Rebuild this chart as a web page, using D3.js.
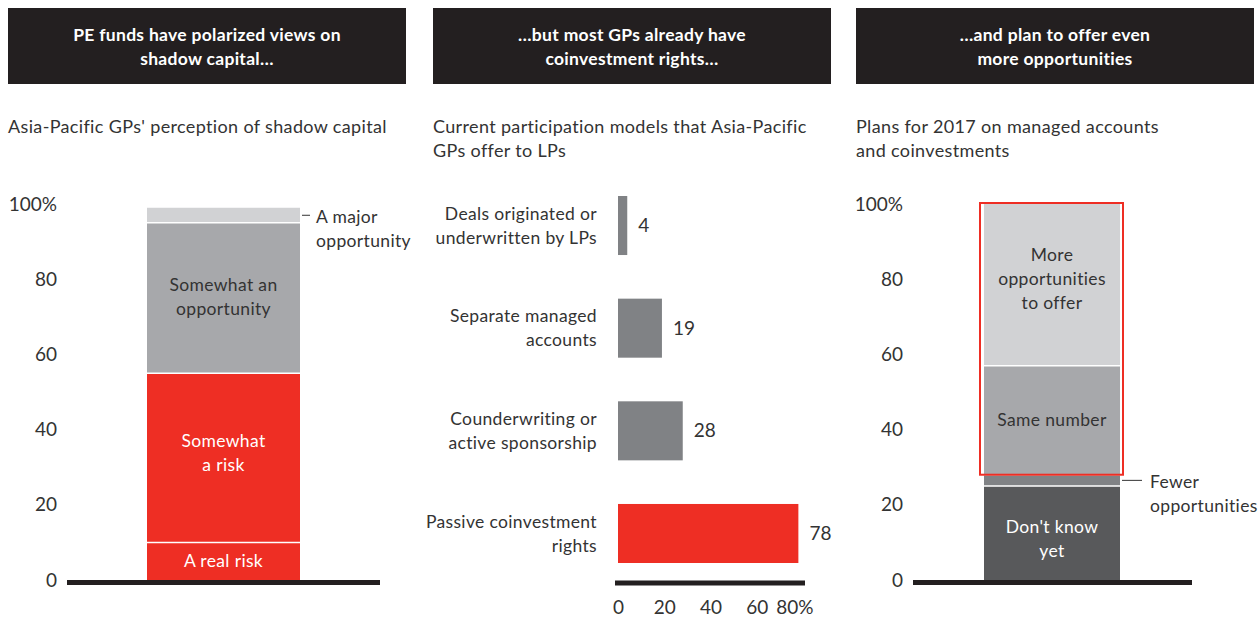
<!DOCTYPE html>
<html>
<head>
<meta charset="utf-8">
<script src="https://cdn.jsdelivr.net/npm/d3@7"></script>
<style>
  body { margin: 0; background: #fff; }
  svg text { font-family: Lato, "Noto Sans", sans-serif; }
</style>
</head>
<body>
<svg id="chart" width="1258" height="617"></svg>
<script>
    // chart data
    var headers = [
        ["PE funds have polarized views on", "shadow capital\u2026"],
        ["\u2026but most GPs already have", "coinvestment rights\u2026"],
        ["\u2026and plan to offer even", "more opportunities"]
    ];
    var subtitles = [
        ["Asia-Pacific GPs' perception of shadow capital"],
        ["Current participation models that Asia-Pacific", "GPs offer to LPs"],
        ["Plans for 2017 on managed accounts", "and coinvestments"]
    ];

    var leftCats = ["A real risk", "Somewhat a risk", "Somewhat an opportunity", "A major opportunity"];
    var leftLabels = [["A real risk"], ["Somewhat", "a risk"], ["Somewhat an", "opportunity"], ["A major", "opportunity"]];
    var leftValues = [10, 45, 40, 4];

    var midCats = ["Deals originated or underwritten by LPs", "Separate managed accounts",
                   "Counderwriting or active sponsorship", "Passive coinvestment rights"];
    var midLabels = [["Deals originated or", "underwritten by LPs"], ["Separate managed", "accounts"],
                     ["Counderwriting or", "active sponsorship"], ["Passive coinvestment", "rights"]];
    var midValues = [4, 19, 28, 78];

    var rightCats = ["Don't know yet", "Fewer opportunities", "Same number", "More opportunities to offer"];
    var rightLabels = [["Don't know", "yet"], ["Fewer", "opportunities"], ["Same number"], ["More", "opportunities", "to offer"]];
    var rightValues = [25, 3, 29, 43];

    var pctTicks = [0, 20, 40, 60, 80, 100];
    var midTicks = [0, 20, 40, 60, 80];

    // colours
    var red = "#ee2e24";
    var ink = "#231f20";
    var text = "#333333";
    var leftColors = [red, red, "#a7a8ab", "#d1d2d4"];
    var leftText = ["#fff", "#fff", "#333", "#333"];
    var rightColors = ["#58595b", "#808285", "#a7a8ab", "#d1d2d4"];
    var rightText = ["#fff", "#fff", "#333", "#333"];

    // layout tweaks for in-bar labels (pixels, relative to segment centre)
    var leftShift = [0, -5, -1, 0];
    var rightShift = [6, 0, 0, -6];

    var fs = 17.5, ls = 0.35;

    var svg = d3.select("#chart");

    // header boxes
    var boxX = [8, 433, 856];
    var boxW = 398;
    boxX.forEach(function(x, i) {
        svg.append("rect")
            .attr("x", x).attr("y", 8).attr("width", boxW).attr("height", 76)
            .attr("fill", ink);
        headers[i].forEach(function(line, j) {
            svg.append("text")
                .attr("x", x + boxW / 2).attr("y", 41 + j * 24)
                .attr("text-anchor", "middle")
                .attr("fill", "#fff")
                .attr("font-size", 17.5).attr("font-weight", "bold")
                .attr("letter-spacing", 0.3)
                .text(line);
        });
        subtitles[i].forEach(function(line, j) {
            svg.append("text")
                .attr("x", x).attr("y", 133 + j * 24)
                .attr("fill", text)
                .attr("font-size", 18).attr("letter-spacing", 0.35)
                .text(line);
        });
    });

    // shared vertical scale for the stacked bars
    var y = d3.scaleLinear().domain([0, 100]).range([580, 204]);

    function cumulate(values) {
        var acc = 0;
        return values.map(function(v) {
            var d = { y0: acc, y1: acc + v, v: v };
            acc += v;
            return d;
        });
    }

    function stackedPanel(g, cats, values, colors, textColors, labels, shift, bx, bw, axisX, baseX0, baseX1, skipLabel) {
        var segs = cumulate(values);
        segs.forEach(function(d, i) { d.cat = cats[i]; d.i = i; });

        var axis = d3.axisLeft(y).tickValues(pctTicks).tickSize(0).tickPadding(0)
            .tickFormat(function(d) { return d === 100 ? "100%" : d; });
        var ag = g.append("g").attr("transform", "translate(" + axisX + ",0)").call(axis);
        ag.select(".domain").remove();
        ag.selectAll("text")
            .attr("font-size", 19).attr("fill", text)
            .style("font-family", "Lato, 'Noto Sans', sans-serif");

        g.selectAll("rect.seg").data(segs).enter()
            .append("rect")
            .attr("class", "seg")
            .attr("x", bx).attr("width", bw)
            .attr("y", function(d) { return y(d.y1); })
            .attr("height", function(d) { return y(d.y0) - y(d.y1); })
            .attr("fill", function(d) { return colors[d.i]; });

        // white separators
        g.selectAll("line.sep").data(segs.slice(1)).enter()
            .append("line")
            .attr("x1", bx).attr("x2", bx + bw)
            .attr("y1", function(d) { return y(d.y0); })
            .attr("y2", function(d) { return y(d.y0); })
            .attr("stroke", "#fff").attr("stroke-width", 1.5);

        segs.forEach(function(d) {
            if (skipLabel.indexOf(d.i) >= 0) return;
            var lines = labels[d.i];
            var cy = (y(d.y0) + y(d.y1)) / 2 + shift[d.i];
            lines.forEach(function(line, j) {
                g.append("text")
                    .attr("x", bx + bw / 2)
                    .attr("y", cy + (j - (lines.length - 1) / 2) * 24)
                    .attr("dy", "0.35em")
                    .attr("text-anchor", "middle")
                    .attr("fill", textColors[d.i])
                    .attr("font-size", fs).attr("letter-spacing", ls)
                    .text(line);
            });
        });

        g.append("line")
            .attr("x1", baseX0).attr("x2", baseX1)
            .attr("y1", y(0) + 2.5).attr("y2", y(0) + 2.5)
            .attr("stroke", ink).attr("stroke-width", 5);
        return segs;
    }

    // left panel
    var gl = svg.append("g");
    var lsegs = stackedPanel(gl, leftCats, leftValues, leftColors, leftText, leftLabels, leftShift,
        147, 153, 57, 67, 380, [3]);
    var major = lsegs[3];
    var my = (y(major.y0) + y(major.y1)) / 2;
    gl.append("line")
        .attr("x1", 302).attr("x2", 310).attr("y1", my).attr("y2", my)
        .attr("stroke", text).attr("stroke-width", 1);
    leftLabels[3].forEach(function(line, j) {
        gl.append("text")
            .attr("x", 316).attr("y", my + 2 + j * 24).attr("dy", "0.35em")
            .attr("fill", text).attr("font-size", fs).attr("letter-spacing", ls)
            .text(line);
    });

    // right panel
    var gr = svg.append("g");
    var rsegs = stackedPanel(gr, rightCats, rightValues, rightColors, rightText, rightLabels, rightShift,
        984, 136, 903, 913, 1192, [1]);
    var fewer = rsegs[1];
    var fy = (y(fewer.y0) + y(fewer.y1)) / 2;
    gr.append("line")
        .attr("x1", 1122).attr("x2", 1142).attr("y1", fy).attr("y2", fy)
        .attr("stroke", text).attr("stroke-width", 1);
    rightLabels[1].forEach(function(line, j) {
        gr.append("text")
            .attr("x", 1150).attr("y", fy + 2 + j * 24).attr("dy", "0.35em")
            .attr("fill", text).attr("font-size", fs).attr("letter-spacing", ls)
            .text(line);
    });
    // red outline around "same" + "more"
    gr.append("rect")
        .attr("x", 980).attr("width", 143)
        .attr("y", y(100) - 1)
        .attr("height", y(rsegs[2].y0) - y(100) + 1)
        .attr("fill", "none")
        .attr("stroke", red).attr("stroke-width", 2);

    // middle panel
    var gm = svg.append("g");
    var x = d3.scaleLinear().domain([0, 80]).range([618, 803]);
    var band = d3.scaleBand().domain(midCats).range([196, 563]).paddingInner(0.425).paddingOuter(0);

    gm.selectAll("rect.bar").data(midValues).enter()
        .append("rect")
        .attr("class", "bar")
        .attr("x", x(0))
        .attr("y", function(d, i) { return band(midCats[i]); })
        .attr("width", function(d) { return x(d) - x(0); })
        .attr("height", band.bandwidth())
        .attr("fill", function(d, i) { return i === 3 ? red : "#808285"; });

    gm.selectAll("text.val").data(midValues).enter()
        .append("text")
        .attr("class", "val")
        .attr("x", function(d) { return x(d) + 11; })
        .attr("y", function(d, i) { return band(midCats[i]) + band.bandwidth() / 2; })
        .attr("dy", "0.35em")
        .attr("fill", text).attr("font-size", 19)
        .text(function(d) { return d; });

    midCats.forEach(function(c, i) {
        var cy = band(c) + band.bandwidth() / 2;
        var lines = midLabels[i];
        lines.forEach(function(line, j) {
            gm.append("text")
                .attr("x", 597)
                .attr("y", cy + (j - (lines.length - 1) / 2) * 24)
                .attr("dy", "0.35em")
                .attr("text-anchor", "end")
                .attr("fill", text).attr("font-size", fs).attr("letter-spacing", ls)
                .text(line);
        });
    });

    gm.append("line")
        .attr("x1", 615).attr("x2", 805)
        .attr("y1", 583).attr("y2", 583)
        .attr("stroke", ink).attr("stroke-width", 5);

    var xAxis = d3.axisBottom(x).tickValues(midTicks).tickSize(0).tickPadding(0)
        .tickFormat(function(d) { return d === 80 ? "80%" : d; });
    var xg = gm.append("g").attr("transform", "translate(0,600)").call(xAxis);
    xg.select(".domain").remove();
    xg.selectAll("text")
        .attr("font-size", 19).attr("fill", text)
        .style("font-family", "Lato, 'Noto Sans', sans-serif");
    // the last label hangs its "%" to the right of the tick
    xg.selectAll(".tick text").filter(function(d) { return d === 80; })
        .attr("text-anchor", "end").attr("x", 10);
</script>
</body>
</html>
